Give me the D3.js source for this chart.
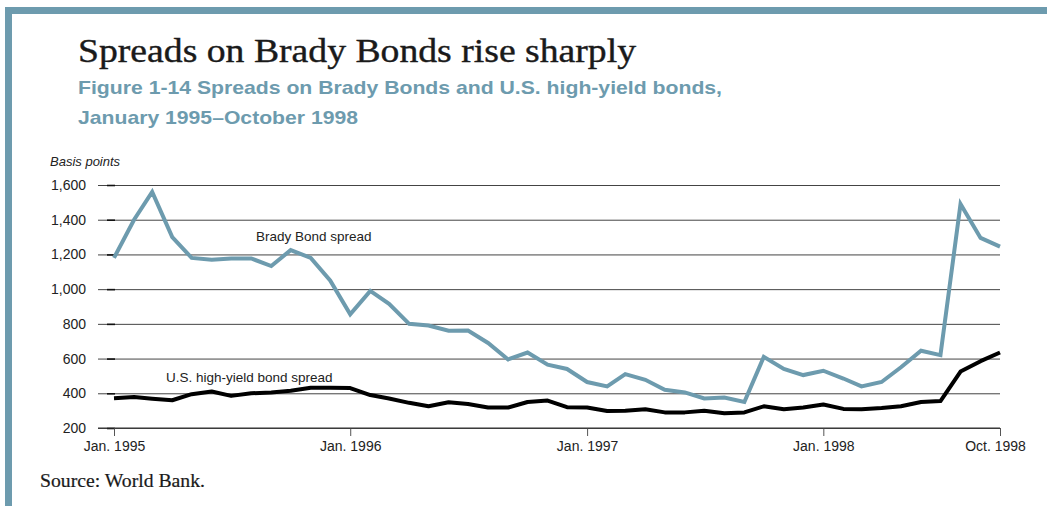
<!DOCTYPE html>
<html>
<head>
<meta charset="utf-8">
<script src="https://cdn.jsdelivr.net/npm/d3@7"></script>
<style>
  html, body { margin: 0; padding: 0; background: #fff; }
  svg { display: block; }
</style>
</head>
<body>
<svg id="chart" width="1047" height="506"></svg>
<script>
// Monthly spreads, January 1995 – October 1998 (basis points)
const months = d3.range(46).map(i => new Date(1995, i, 1));
const bradySpread = [
  1180, 1400, 1560, 1300, 1180, 1170, 1177, 1177, 1133, 1225, 1180, 1050,
  855, 990, 915, 800, 790, 760, 762, 690, 595, 635, 565, 540,
  465, 440, 510, 478, 420, 405, 370, 375, 350, 610, 540, 505,
  530, 485, 440, 465, 550, 645, 620, 1490, 1295, 1245
];
const highYieldSpread = [
  372, 378, 369, 360, 395, 410, 385, 400, 405, 415, 432, 432,
  430, 390, 370, 345, 325, 348, 338, 318, 318, 350, 358, 320,
  318, 298, 300, 308, 290, 290, 300, 285, 290, 325, 308, 318,
  335, 310, 308, 315, 325, 350, 355, 525, 585, 635
];
const yTicks = [200, 400, 600, 800, 1000, 1200, 1400, 1600];
const xTickDates = [new Date(1995, 0, 1), new Date(1996, 0, 1), new Date(1997, 0, 1), new Date(1998, 0, 1), new Date(1998, 9, 1)];
const xTickLabels = ["Jan. 1995", "Jan. 1996", "Jan. 1997", "Jan. 1998", "Oct. 1998"];

const frameColor = "#6d9bae";
const sans = "'Liberation Sans', Arial, sans-serif";
const serif = "'Liberation Serif', 'DejaVu Serif', serif";
const svg = d3.select("#chart");

// Frame bars along the top and left edges
svg.append("rect").attr("x", 5).attr("y", 7).attr("width", 1042).attr("height", 7).attr("fill", frameColor);
svg.append("rect").attr("x", 5).attr("y", 7).attr("width", 7).attr("height", 499).attr("fill", frameColor);

// Headings
svg.append("text").attr("x", 78).attr("y", 62)
  .attr("font-family", serif).attr("font-size", 34).attr("fill", "#1a1a1a")
  .attr("stroke", "#1a1a1a").attr("stroke-width", 0.4)
  .attr("textLength", 558).attr("lengthAdjust", "spacingAndGlyphs")
  .text("Spreads on Brady Bonds rise sharply");
svg.append("text").attr("x", 78).attr("y", 94)
  .attr("font-family", sans).attr("font-weight", "bold")
  .attr("font-size", 18.5).attr("fill", frameColor)
  .attr("textLength", 644).attr("lengthAdjust", "spacingAndGlyphs")
  .text("Figure 1-14 Spreads on Brady Bonds and U.S. high-yield bonds,");
svg.append("text").attr("x", 78).attr("y", 124)
  .attr("font-family", sans).attr("font-weight", "bold")
  .attr("font-size", 18.5).attr("fill", frameColor)
  .attr("textLength", 280).attr("lengthAdjust", "spacingAndGlyphs")
  .text("January 1995\u2013October 1998");

// Scales
const x = d3.scaleTime().domain([months[0], months[months.length - 1]]).range([114, 1000]);
const y = d3.scaleLinear().domain([200, 1600]).range([428, 185]);

const g = svg.append("g");

// Horizontal gridlines with y ticks
const yAxis = d3.axisLeft(y).tickValues(yTicks).tickSize(0).tickPadding(12)
  .tickFormat(d3.format(","));
const ya = g.append("g").attr("transform", "translate(98,0)").call(yAxis);
ya.select(".domain").remove();
ya.selectAll(".tick text")
  .attr("font-family", sans).attr("font-size", 14).attr("fill", "#222");
ya.selectAll(".tick").append("line")
  .attr("x1", 0).attr("x2", 1000 - 98).attr("stroke", "#444").attr("stroke-width", 1);
ya.selectAll(".tick").append("line")
  .attr("x1", 9).attr("x2", 17).attr("stroke", "#111").attr("stroke-width", 1.6);

svg.append("text").attr("x", 50).attr("y", 166)
  .attr("font-family", sans).attr("font-style", "italic")
  .attr("font-size", 13).attr("fill", "#222").text("Basis points");

// Bottom axis
const xAxis = d3.axisBottom(x).tickValues(xTickDates).tickSize(8).tickPadding(5)
  .tickFormat((d, i) => xTickLabels[i]);
const xa = g.append("g").attr("transform", "translate(0,428)").call(xAxis);
xa.select(".domain").remove();
xa.append("line").attr("x1", 98).attr("x2", 1000).attr("stroke", "#333").attr("stroke-width", 1.2);
xa.selectAll(".tick line").attr("stroke", "#555");
xa.selectAll(".tick text")
  .attr("font-family", sans).attr("font-size", 14).attr("fill", "#222");
xa.selectAll(".tick text").filter((d, i) => i === xTickLabels.length - 1).attr("dx", -5);

// Series lines
const line = values => d3.line()
  .x((d, i) => x(months[i]))
  .y(d => y(d))(values);

g.append("path").attr("d", line(bradySpread))
  .attr("fill", "none").attr("stroke", frameColor).attr("stroke-width", 4)
  .attr("stroke-linejoin", "miter");
g.append("path").attr("d", line(highYieldSpread))
  .attr("fill", "none").attr("stroke", "#000").attr("stroke-width", 4)
  .attr("stroke-linejoin", "round");

// Series labels
svg.append("text").attr("x", 256).attr("y", 241)
  .attr("font-family", sans).attr("font-size", 13.5).attr("fill", "#222")
  .text("Brady Bond spread");
svg.append("text").attr("x", 166).attr("y", 382)
  .attr("font-family", sans).attr("font-size", 13.5).attr("fill", "#222")
  .text("U.S. high-yield bond spread");

// Source note
svg.append("text").attr("x", 40).attr("y", 487)
  .attr("font-family", serif).attr("font-size", 18.5).attr("fill", "#1a1a1a")
  .attr("stroke", "#1a1a1a").attr("stroke-width", 0.2)
  .attr("textLength", 165).attr("lengthAdjust", "spacingAndGlyphs")
  .text("Source: World Bank.");
</script>
</body>
</html>
